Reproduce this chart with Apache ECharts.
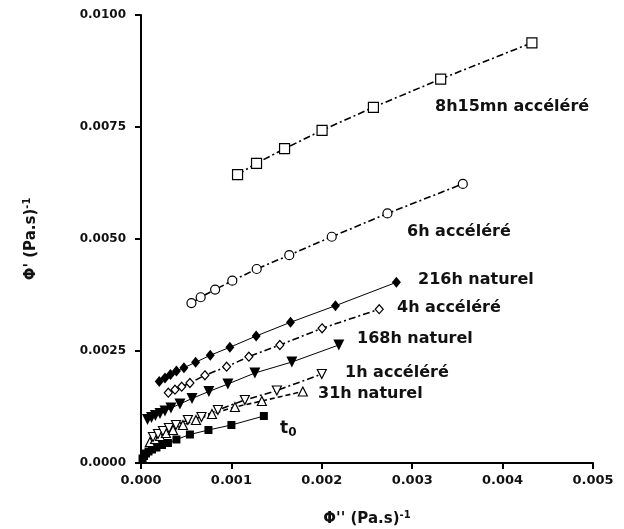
<!DOCTYPE html>
<html>
<head>
<meta charset="utf-8">
<script src="https://cdn.jsdelivr.net/npm/echarts@6/dist/echarts.min.js"></script>
<style>html,body{margin:0;padding:0;background:#fff;}#c{width:624px;height:529px;}</style>
</head>
<body>
<div id="c"></div>
<script>
// Data (x = Φ'' , y = Φ')
const s8h15_x = [0.001068, 0.001278, 0.001588, 0.002003, 0.002571, 0.003315, 0.004324];
const s8h15_y = [0.006435, 0.00669, 0.007016, 0.007426, 0.00794, 0.00857, 0.00938];
const s6h_x = [0.000558, 0.00066, 0.00082, 0.00101, 0.00128, 0.00164, 0.00211, 0.002726, 0.00356];
const s6h_y = [0.00357, 0.0037, 0.00387, 0.00407, 0.00433, 0.00464, 0.00505, 0.00557, 0.00623];
const s216_x = [0.000202, 0.000265, 0.000326, 0.000392, 0.000475, 0.000604, 0.000766, 0.000983, 0.001274, 0.001654, 0.002151, 0.002825];
const s216_y = [0.001819, 0.001897, 0.001975, 0.002054, 0.002127, 0.002248, 0.002404, 0.002583, 0.002835, 0.003141, 0.003511, 0.004033];
const s4h_x = [0.000302, 0.000376, 0.00045, 0.000541, 0.000707, 0.000947, 0.001193, 0.001536, 0.002003, 0.002635];
const s4h_y = [0.001569, 0.001636, 0.001703, 0.001786, 0.001958, 0.00215, 0.002373, 0.002634, 0.003007, 0.003433];
const s168_x = [0.000072, 0.000116, 0.00016, 0.00021, 0.000265, 0.000331, 0.000431, 0.000564, 0.000751, 0.000961, 0.00126, 0.001669, 0.002188];
const s168_y = [0.000971, 0.001016, 0.00106, 0.001105, 0.001161, 0.001228, 0.001317, 0.00144, 0.001596, 0.001763, 0.002009, 0.002254, 0.002634];
const s1h_x = [0.000133, 0.000188, 0.000243, 0.000309, 0.000387, 0.000519, 0.000669, 0.000851, 0.001149, 0.001503, 0.002];
const s1h_y = [0.00058, 0.000647, 0.000714, 0.000781, 0.000848, 0.00096, 0.001027, 0.001183, 0.001406, 0.001618, 0.001987];
const s31_x = [0.000099, 0.000155, 0.00021, 0.000276, 0.000354, 0.000464, 0.000608, 0.000785, 0.001039, 0.001337, 0.00179];
const s31_y = [0.000469, 0.000536, 0.000603, 0.00067, 0.000737, 0.000848, 0.00096, 0.001094, 0.00125, 0.001384, 0.001596];
const st0_x = [0.000017, 0.000033, 0.000055, 0.000083, 0.000122, 0.000171, 0.000232, 0.000298, 0.000392, 0.000541, 0.000746, 0.001, 0.001359];
const st0_y = [0.0001, 0.000156, 0.000212, 0.000257, 0.000301, 0.000346, 0.000402, 0.000446, 0.000525, 0.000636, 0.000737, 0.000848, 0.001049];
const xTicks = ['0.000', '0.001', '0.002', '0.003', '0.004', '0.005'];
const yTicks = ['0.0000', '0.0025', '0.0050', '0.0075', '0.0100'];

function pairs(xs, ys) { return xs.map((x, i) => [x, ys[i]]); }

const FONT = "'DejaVu Sans', Verdana, sans-serif";
const dashDot = [7, 3, 2, 3];

function ser(xs, ys, symbol, filled, lineType, opts) {
  return Object.assign({
    type: 'line',
    data: pairs(xs, ys),
    symbol: symbol,
    symbolSize: 9,
    showAllSymbol: true,
    animation: false,
    lineStyle: { color: '#000', width: lineType === 'solid' ? 1 : 1.6, type: lineType },
    itemStyle: { color: filled ? '#000' : '#fff', borderColor: '#000', borderWidth: filled ? 0 : 1.2 }
  }, opts || {});
}

const chart = echarts.init(document.getElementById('c'), null, { renderer: 'canvas' });
const TXT = '#111';
const option = {
  backgroundColor: '#fff',
  animation: false,
  grid: { left: 141, right: 31, top: 15, bottom: 66, containLabel: false, outerBoundsMode: 'none' },
  xAxis: {
    type: 'value', min: 0, max: 0.005, interval: 0.001,
    axisLine: { show: true, onZero: false, lineStyle: { color: '#000', width: 2 } },
    axisTick: { show: true, length: 6, lineStyle: { color: '#000', width: 2 } },
    axisLabel: { color: TXT, fontWeight: 'bold', fontSize: 13, fontFamily: FONT, margin: 11,
      formatter: (v) => xTicks[Math.round(v / 0.001)] },
    splitLine: { show: false },
    name: "{a|Φ'' (Pa.s)}{s|-1}", nameLocation: 'middle', nameGap: 47,
    nameTextStyle: { rich: {
      a: { fontSize: 15, fontWeight: 'bold', fontFamily: FONT, color: TXT },
      s: { fontSize: 10, fontWeight: 'bold', fontFamily: FONT, color: TXT, padding: [0, 0, 9, 0] } } }
  },
  yAxis: {
    type: 'value', min: 0, max: 0.01, interval: 0.0025,
    axisLine: { show: true, onZero: false, lineStyle: { color: '#000', width: 2 } },
    axisTick: { show: true, length: 6, lineStyle: { color: '#000', width: 2 } },
    axisLabel: { color: TXT, fontWeight: 'bold', fontSize: 12, fontFamily: FONT, margin: 15,
      formatter: (v) => yTicks[Math.round(v / 0.0025)] },
    splitLine: { show: false },
    name: "{a|Φ' (Pa.s)}{s|-1}", nameLocation: 'middle', nameGap: 100, nameRotate: 90,
    nameTextStyle: { rich: {
      a: { fontSize: 15, fontWeight: 'bold', fontFamily: FONT, color: TXT },
      s: { fontSize: 10, fontWeight: 'bold', fontFamily: FONT, color: TXT, padding: [0, 0, 9, 0] } } }
  },
  series: [
    ser(st0_x, st0_y, 'rect', true, 'solid', { symbolSize: 8 }),
    ser(s31_x, s31_y, 'triangle', false, [5, 3], { symbolSize: 9 }),
    ser(s1h_x, s1h_y, 'triangle', false, dashDot, { symbolRotate: 180, symbolSize: 9 }),
    ser(s168_x, s168_y, 'triangle', true, 'solid', { symbolRotate: 180, symbolSize: 11 }),
    ser(s4h_x, s4h_y, 'diamond', false, dashDot, { symbolSize: [8, 9] }),
    ser(s216_x, s216_y, 'diamond', true, 'solid', { symbolSize: [9, 11] }),
    ser(s6h_x, s6h_y, 'circle', false, dashDot, { symbolSize: 9 }),
    ser(s8h15_x, s8h15_y, 'rect', false, dashDot, { symbolSize: 10 })
  ],
  graphic: [
    { type: 'text', x: 435, y: 107, style: { text: '8h15mn accéléré', font: "bold 16px " + FONT, fill: TXT, textVerticalAlign: 'middle' } },
    { type: 'text', x: 407, y: 232, style: { text: '6h accéléré', font: "bold 16px " + FONT, fill: TXT, textVerticalAlign: 'middle' } },
    { type: 'text', x: 418, y: 280, style: { text: '216h naturel', font: "bold 16px " + FONT, fill: TXT, textVerticalAlign: 'middle' } },
    { type: 'text', x: 397, y: 308, style: { text: '4h accéléré', font: "bold 16px " + FONT, fill: TXT, textVerticalAlign: 'middle' } },
    { type: 'text', x: 357, y: 339, style: { text: '168h naturel', font: "bold 16px " + FONT, fill: TXT, textVerticalAlign: 'middle' } },
    { type: 'text', x: 345, y: 373, style: { text: '1h accéléré', font: "bold 16px " + FONT, fill: TXT, textVerticalAlign: 'middle' } },
    { type: 'text', x: 318, y: 394, style: { text: '31h naturel', font: "bold 16px " + FONT, fill: TXT, textVerticalAlign: 'middle' } },
    { type: 'text', x: 280, y: 418, style: { text: '{a|t}{b|0}', textVerticalAlign: 'top',
      rich: { a: { font: "bold 17px " + FONT, fill: TXT }, b: { font: "bold 12px " + FONT, fill: TXT, padding: [9, 0, 0, 0] } } } }
  ]
};
chart.setOption(option);
</script>
</body>
</html>
